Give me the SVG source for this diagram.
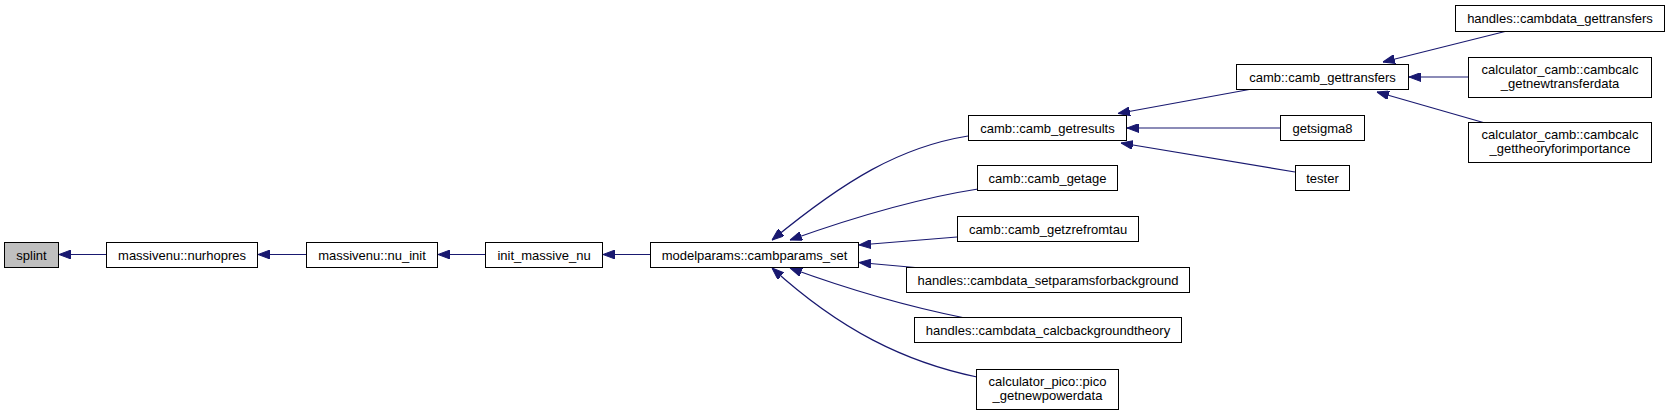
<svg xmlns="http://www.w3.org/2000/svg" width="1669" height="415" viewBox="0 0 1669 415">
<defs>
<style>
.node rect{fill:#ffffff;stroke:#000000;stroke-width:1}
.node.cur rect{fill:#bfbfbf}
.node text{font-family:"Liberation Sans",Arial,Helvetica,sans-serif;font-size:13px;fill:#000000;text-anchor:middle}
.edges path{fill:none;stroke:#191970;stroke-width:1.2;marker-end:url(#ah)}
</style>
<marker id="ah" viewBox="0 0 12 9" refX="12" refY="4.5" markerWidth="12" markerHeight="9" markerUnits="userSpaceOnUse" orient="auto">
<path d="M0,0 L12,4.5 L0,9 Z" fill="#191970" stroke="#191970" stroke-width="1"/>
</marker>
</defs>
<rect width="1669" height="415" fill="#ffffff"/>
<g class="edges" id="edges">
<path d="M106,254.5 L59,254.5"/>
<path d="M306,254.5 L258,254.5"/>
<path d="M485,254.5 L438,254.5"/>
<path d="M650,254.5 L603,254.5"/>
<path d="M968,136 C900,147 845,180 772,240"/>
<path d="M978,189 C920,198 860,215 790,240"/>
<path d="M957,237 L859,245"/>
<path d="M915,267.5 L859,262.5"/>
<path d="M965,318 C910,307 850,290 790,268"/>
<path d="M977,377 C905,362 840,330 772,268"/>
<path d="M1252,89 L1118,113.5"/>
<path d="M1280,128 L1127,128"/>
<path d="M1295,172 L1121,143"/>
<path d="M1507,31 L1383,62"/>
<path d="M1468,77 L1409,77"/>
<path d="M1485,123 L1377,92"/>
</g>
<g class="node cur" id="splint"><rect x="4.5" y="242.5" width="54" height="25"/><text x="31.5" y="259.5">splint</text></g>
<g class="node" id="nurhopres"><rect x="106.5" y="242.5" width="151" height="25"/><text x="182" y="259.5">massivenu::nurhopres</text></g>
<g class="node" id="nu_init"><rect x="306.5" y="242.5" width="131" height="25"/><text x="372" y="259.5">massivenu::nu_init</text></g>
<g class="node" id="init_massive_nu"><rect x="485.5" y="242.5" width="117" height="25"/><text x="544" y="259.5">init_massive_nu</text></g>
<g class="node" id="cambparams_set"><rect x="650.5" y="242.5" width="208" height="25"/><text x="754.5" y="259.5">modelparams::cambparams_set</text></g>
<g class="node" id="camb_getresults"><rect x="968.5" y="115.5" width="158" height="25"/><text x="1047.5" y="132.5">camb::camb_getresults</text></g>
<g class="node" id="camb_getage"><rect x="977.5" y="165.5" width="140" height="25"/><text x="1047.5" y="182.5">camb::camb_getage</text></g>
<g class="node" id="camb_getzrefromtau"><rect x="957.5" y="216.5" width="181" height="25"/><text x="1048" y="233.5">camb::camb_getzrefromtau</text></g>
<g class="node" id="setparamsforbackground"><rect x="906.5" y="267.5" width="283" height="25"/><text x="1048" y="284.5">handles::cambdata_setparamsforbackground</text></g>
<g class="node" id="calcbackgroundtheory"><rect x="914.5" y="317.5" width="267" height="25"/><text x="1048" y="334.5">handles::cambdata_calcbackgroundtheory</text></g>
<g class="node" id="pico_getnewpowerdata"><rect x="976.5" y="369.5" width="142" height="40"/><text x="1047.5" y="386"><tspan x="1047.5" y="386">calculator_pico::pico</tspan><tspan x="1047.5" y="400">_getnewpowerdata</tspan></text></g>
<g class="node" id="camb_gettransfers"><rect x="1236.5" y="64.5" width="172" height="25"/><text x="1322.5" y="81.5">camb::camb_gettransfers</text></g>
<g class="node" id="getsigma8"><rect x="1280.5" y="115.5" width="84" height="25"/><text x="1322.5" y="132.5">getsigma8</text></g>
<g class="node" id="tester"><rect x="1295.5" y="165.5" width="54" height="25"/><text x="1322.5" y="182.5">tester</text></g>
<g class="node" id="cambdata_gettransfers"><rect x="1455.5" y="5.5" width="209" height="26"/><text x="1560" y="23">handles::cambdata_gettransfers</text></g>
<g class="node" id="getnewtransferdata"><rect x="1468.5" y="57.5" width="183" height="40"/><text x="1560" y="74"><tspan x="1560" y="74">calculator_camb::cambcalc</tspan><tspan x="1560" y="88">_getnewtransferdata</tspan></text></g>
<g class="node" id="gettheoryforimportance"><rect x="1468.5" y="122.5" width="183" height="40"/><text x="1560" y="139"><tspan x="1560" y="139">calculator_camb::cambcalc</tspan><tspan x="1560" y="153">_gettheoryforimportance</tspan></text></g>
</svg>
